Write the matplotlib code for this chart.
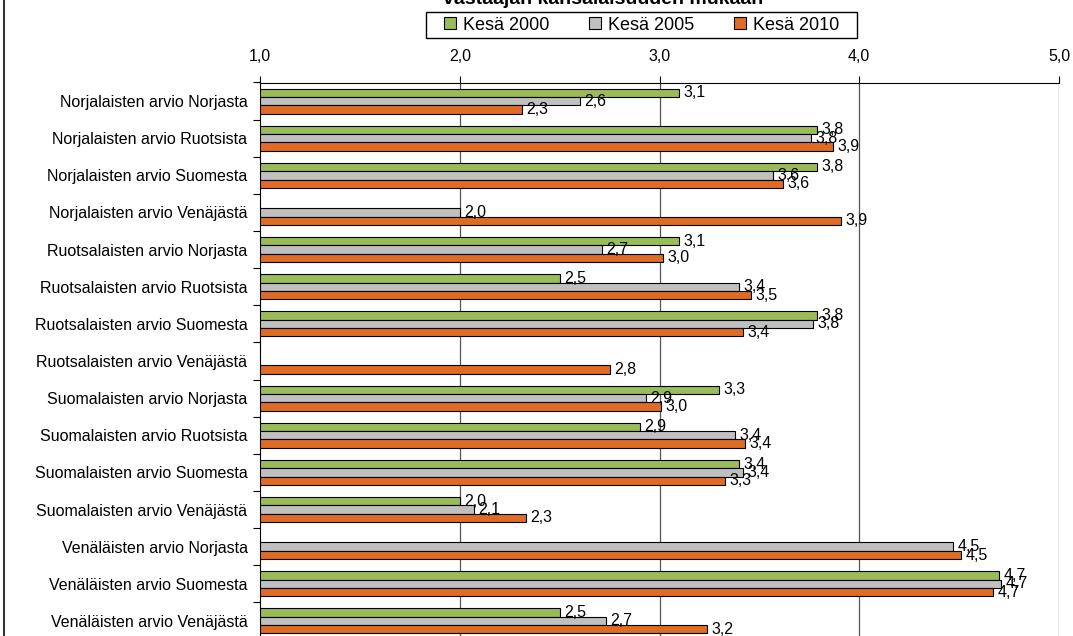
import numpy as np
import matplotlib
matplotlib.use("Agg")
import matplotlib.pyplot as plt
from matplotlib.lines import Line2D
from matplotlib.patches import Rectangle

plt.rcParams['font.family'] = ['Liberation Sans', 'DejaVu Sans']

categories = [
    "Norjalaisten arvio Norjasta",
    "Norjalaisten arvio Ruotsista",
    "Norjalaisten arvio Suomesta",
    "Norjalaisten arvio Venäjästä",
    "Ruotsalaisten arvio Norjasta",
    "Ruotsalaisten arvio Ruotsista",
    "Ruotsalaisten arvio Suomesta",
    "Ruotsalaisten arvio Venäjästä",
    "Suomalaisten arvio Norjasta",
    "Suomalaisten arvio Ruotsista",
    "Suomalaisten arvio Suomesta",
    "Suomalaisten arvio Venäjästä",
    "Venäläisten arvio Norjasta",
    "Venäläisten arvio Suomesta",
    "Venäläisten arvio Venäjästä",
]
kesa_2000 = [3.10, 3.79, 3.79, None, 3.10, 2.50, 3.79, None, 3.30, 2.90, 3.40, 2.00, None, 4.70, 2.50]
kesa_2005 = [2.60, 3.76, 3.57, 2.00, 2.71, 3.40, 3.77, None, 2.93, 3.38, 3.42, 2.07, 4.47, 4.71, 2.73]
kesa_2010 = [2.31, 3.87, 3.62, 3.91, 3.02, 3.46, 3.42, 2.75, 3.01, 3.43, 3.33, 2.33, 4.51, 4.67, 3.24]
series_names = ["Kesä 2000", "Kesä 2005", "Kesä 2010"]
x_ticks = [1.0, 2.0, 3.0, 4.0, 5.0]

colors = ["#9BBB59", "#C0C0C0", "#E06B26"]

fig = plt.figure(figsize=(10.73, 6.36), dpi=100)
ax = fig.add_axes([260 / 1073, 1 - 639.5 / 636, 799 / 1073, 557 / 636])

y = np.arange(len(categories))
h = 0.225
offsets = [-h, 0, h]

for vals, name, col, off in zip([kesa_2000, kesa_2005, kesa_2010], series_names, colors, offsets):
    for i, v in enumerate(vals):
        if v is None:
            continue
        ax.barh(y[i] + off, v - 1.0, left=1.0, height=h, color=col,
                edgecolor="black", linewidth=0.8, zorder=3)
        ax.text(v + 0.022, y[i] + off, ("%.1f" % v).replace(".", ","),
                va="center", ha="left", fontsize=11.5, zorder=4)

ax.set_xlim(1.0, 5.0)
ax.set_ylim(len(categories) - 0.5, -0.5)

ax.xaxis.tick_top()
ax.set_xticks(x_ticks)
ax.set_xticklabels([("%.1f" % t).replace(".", ",") for t in x_ticks], fontsize=11.5)
ax.tick_params(axis="x", direction="out", length=5, width=0.8, pad=8.5, color="black")
for t in x_ticks[1:]:
    ax.axvline(t, color="#555555", linewidth=0.9, zorder=1)

ax.set_yticks(y)
ax.set_yticklabels(categories, fontsize=11.5)
ax.tick_params(axis="y", which="major", length=0, pad=9)
ax.set_yticks(np.arange(len(categories) + 1) - 0.5, minor=True)
ax.tick_params(axis="y", which="minor", direction="out", length=5, width=0.8, color="black")

ax.spines["right"].set_visible(False)
ax.spines["bottom"].set_visible(False)
ax.spines["left"].set_color("black")
ax.spines["top"].set_color("black")

# legend: entries without frame, box drawn separately
handles = [Rectangle((0, 0), 1, 1, facecolor=c, edgecolor="black", linewidth=0.8) for c in colors]
leg = fig.legend(handles, series_names, loc="center", ncol=3,
                 bbox_to_anchor=(642 / 1073, 1 - 25 / 636), fontsize=13,
                 frameon=False, handlelength=0.65, handleheight=0.65,
                 handletextpad=0.4, columnspacing=2.2, borderpad=0, borderaxespad=0)
fig.add_artist(Rectangle((426 / 1073, 1 - 38 / 636), 431 / 1073, 26 / 636,
                         transform=fig.transFigure, facecolor="none",
                         edgecolor="black", linewidth=1.0))

fig.text(603 / 1073, 1 - 4 / 636, "vastaajan kansalaisuuden mukaan",
         ha="center", va="baseline", fontsize=14, fontweight="bold")

fig.add_artist(Line2D([4 / 1073, 4 / 1073], [0, 1], transform=fig.transFigure,
                      color="#333333", linewidth=1.5))

fig.savefig("out.png", dpi=100)
